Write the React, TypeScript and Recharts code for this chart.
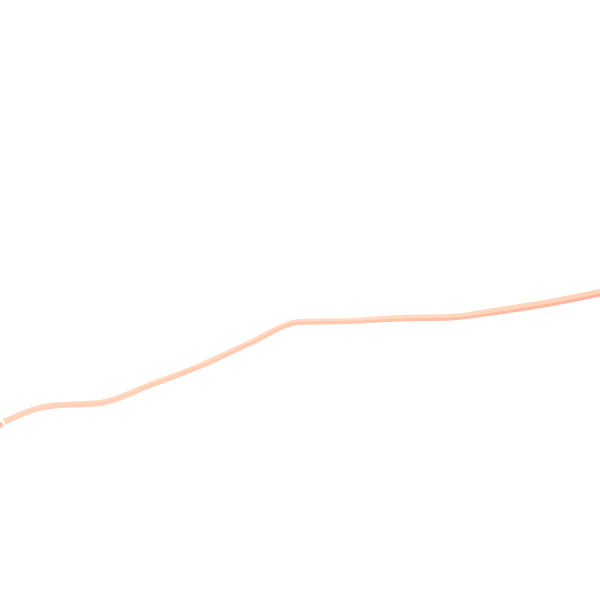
import { LineChart, Line, XAxis, YAxis } from 'recharts'

// positions along the run, and the level of the curve (higher = further up)
const steps = ['0', '1', '2', '3', '4', '5', '6', '7', '8', '9', '10', '11', '12']
const upper = [176, 194, 197, 215, 234, 257, 278, 279, 282, 283, 290, 298, 308]
const lower = [175, 193, 196, 214, 233, 256, 277, 278, 280, 281, 287, 295, 305]

const data = steps.map((s, i) => ({ step: s, upper: upper[i], lower: lower[i] }))

export default function App() {
    return (
        <div style={{ position: 'absolute', top: 0, left: 0, width: 600, height: 600, background: '#fff' }}>
            <LineChart width={600} height={600} data={data} margin={{ top: 0, right: 0, left: 0, bottom: 0 }}>
                <defs>
                    <linearGradient id="peach" x1="0" y1="0" x2="1" y2="0">
                        <stop offset="0%" stopColor="#ffd5bd" />
                        <stop offset="60%" stopColor="#ffdcc4" />
                        <stop offset="100%" stopColor="#ffd2b8" />
                    </linearGradient>
                    <linearGradient id="salmon" x1="0" y1="0" x2="1" y2="0">
                        <stop offset="0%" stopColor="#ffd3bb" />
                        <stop offset="60%" stopColor="#ffc6ad" />
                        <stop offset="100%" stopColor="#ffb39c" />
                    </linearGradient>
                </defs>
                <XAxis dataKey="step" hide padding={{ left: 0, right: 0 }} />
                <YAxis hide domain={[0, 600]} />
                <Line type="monotone" dataKey="upper" stroke="url(#peach)" strokeWidth={6} dot={false} isAnimationActive={false} />
                <Line type="monotone" dataKey="lower" stroke="url(#salmon)" strokeWidth={3} dot={false} isAnimationActive={false} />
            </LineChart>
        </div>
    )
}
